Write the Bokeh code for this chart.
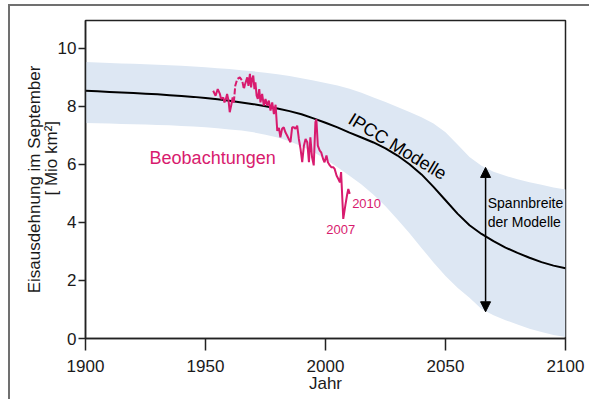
import math
from bokeh.plotting import figure
from bokeh.models import Label, Arrow, NormalHead, FixedTicker, Range1d, LinearAxis
from bokeh.embed import file_html
from bokeh.resources import INLINE

# ---- data ----
model_years = [1900, 1905, 1910, 1915, 1920, 1925, 1930, 1935, 1940, 1945, 1950, 1955, 1960,
               1965, 1970, 1975, 1980, 1985, 1990, 1995, 2000, 2005, 2010, 2015, 2020, 2025,
               2030, 2035, 2040, 2045, 2050, 2055, 2060, 2065, 2070, 2075, 2080, 2085, 2090,
               2095, 2100]
model_mean = [8.53, 8.51, 8.49, 8.47, 8.45, 8.43, 8.41, 8.38, 8.35, 8.32, 8.28, 8.24, 8.19,
              8.13, 8.07, 8.00, 7.92, 7.83, 7.72, 7.58, 7.43, 7.27, 7.09, 6.92, 6.75, 6.55,
              6.30, 6.00, 5.65, 5.22, 4.76, 4.30, 3.90, 3.60, 3.35, 3.13, 2.95, 2.78, 2.63,
              2.51, 2.42]
model_upper = [9.52, 9.50, 9.49, 9.47, 9.46, 9.44, 9.43, 9.41, 9.39, 9.37, 9.34, 9.31, 9.28,
               9.24, 9.20, 9.15, 9.10, 9.04, 8.96, 8.88, 8.80, 8.71, 8.60, 8.46, 8.30, 8.14,
               7.97, 7.80, 7.62, 7.40, 7.10, 6.68, 6.25, 5.95, 5.74, 5.60, 5.48, 5.38, 5.29,
               5.20, 5.13]
model_lower = [7.42, 7.41, 7.40, 7.39, 7.38, 7.37, 7.35, 7.34, 7.32, 7.30, 7.27, 7.24, 7.20,
               7.16, 7.10, 7.02, 6.92, 6.79, 6.62, 6.42, 6.17, 5.90, 5.60, 5.30, 4.95, 4.55,
               4.10, 3.62, 3.12, 2.62, 2.15, 1.75, 1.40, 1.02, 0.80, 0.63, 0.48, 0.34, 0.22,
               0.12, 0.05]

obs_years = [1953.2, 1954.2, 1955.1, 1956.0, 1956.5, 1957.4, 1957.9, 1958.5, 1959.0, 1959.6,
             1960.1, 1960.7, 1961.3, 1961.8, 1962.4, 1963.2, 1964.3, 1965.3, 1966.0, 1966.5,
             1967.4, 1967.9, 1968.5, 1969.0, 1969.4, 1969.9, 1970.4, 1970.8, 1971.3, 1971.8,
             1972.4, 1972.9, 1973.6, 1974.3, 1975.0, 1975.7, 1976.4, 1977.1, 1977.8, 1978.5,
             1979.2, 1979.9, 1980.6, 1981.2, 1981.9, 1982.6, 1983.3, 1984.0, 1984.7, 1985.4,
             1986.1, 1986.8, 1987.5, 1988.2, 1988.9, 1989.6, 1990.3, 1991.0, 1991.7, 1992.4,
             1993.1, 1993.7, 1994.4, 1995.1, 1995.8, 1996.2, 1996.8, 1997.6, 1998.2, 1999.0,
             1999.6, 2000.4, 2001.0, 2001.8, 2002.4, 2003.2, 2003.8, 2004.6, 2005.3, 2006.0,
             2006.5, 2007.4, 2008.3, 2009.0, 2009.5, 2010.1]
obs_extent = [8.53, 8.36, 8.59, 8.42, 8.25, 8.30, 8.13, 8.25, 8.42, 8.19,
              7.79, 8.02, 8.30, 8.13, 8.70, 8.93, 8.99, 8.88, 8.59, 8.76,
              8.99, 8.70, 9.11, 8.65, 8.93, 9.05, 8.59, 8.82, 8.36, 8.25,
              8.59, 8.13, 8.42, 8.02, 8.25, 8.02, 8.19, 7.85, 8.13, 7.73,
              8.05, 7.15, 7.25, 6.93, 7.22, 7.27, 7.10, 6.99, 6.87, 6.76,
              7.27, 7.27, 7.22, 7.33, 6.87, 6.53, 6.07, 6.64, 6.87, 6.76,
              6.07, 6.93, 6.24, 5.96, 7.45, 7.55, 6.64, 6.47, 6.41, 6.18,
              6.07, 6.30, 6.07, 5.96, 5.90, 5.90, 5.84, 5.61, 5.50, 5.38,
              5.73, 4.12, 4.60, 4.95, 5.15, 4.98]
dash_from, dash_to = 13, 19   # gap-dashed part of the record (1962-1966)

x_ticks = [1900, 1950, 2000, 2050, 2100]
y_ticks = [0, 2, 4, 6, 8, 10]

y_title_1 = "Eisausdehnung im September"
y_title_2 = "[ Mio km\u00b2]"

spread_year = 2066.7
spread_top = 5.89
spread_bottom = 0.92

FONT = "Liberation Sans"
PINK = "#d81b6e"
BAND = "#dde7f3"
TXT = "#1a1a1a"

p = figure(width=581, height=395, x_range=Range1d(1900, 2100), y_range=Range1d(0, 10.95),
           output_backend="svg", toolbar_location=None,
           min_border_left=75, min_border_right=26, min_border_top=14, min_border_bottom=63)
p.styles = {"margin-left": "8px", "margin-top": "4px",
            "border-left": "2px solid #707070", "border-top": "2px solid #707070"}
p.grid.visible = False
p.outline_line_color = "#222222"
p.outline_line_width = 1.5
p.background_fill_color = "white"
p.border_fill_color = "white"

# band and lines
p.varea(x=model_years, y1=model_lower, y2=model_upper, fill_color=BAND, fill_alpha=1.0)
p.line(model_years, model_mean, line_color="black", line_width=2)

p.line(obs_years[:dash_from + 1], obs_extent[:dash_from + 1], line_color=PINK, line_width=2)
p.line(obs_years[dash_from:dash_to + 1], obs_extent[dash_from:dash_to + 1], line_color=PINK,
       line_width=2, line_dash="6 2")
p.line(obs_years[dash_to:], obs_extent[dash_to:], line_color=PINK, line_width=2)

# axes
for ax in (p.xaxis[0], p.yaxis[0]):
    ax.axis_line_color = "#222222"
    ax.axis_line_width = 1.5
    ax.major_tick_line_color = "#222222"
    ax.major_tick_line_width = 1.5
    ax.major_tick_in = 0
    ax.minor_tick_out = 0
    ax.minor_tick_in = 0
    ax.major_label_text_font = FONT
    ax.major_label_text_font_size = "17px"
    ax.major_label_text_color = TXT

p.xaxis.ticker = FixedTicker(ticks=x_ticks)
p.yaxis.ticker = FixedTicker(ticks=y_ticks)
p.xaxis.major_tick_out = 12
p.yaxis.major_tick_out = 7
p.xaxis.major_label_standoff = 9
p.yaxis.major_label_standoff = 2
p.xaxis.axis_label = "Jahr"
p.xaxis.axis_label_text_font = FONT
p.xaxis.axis_label_text_font_size = "17px"
p.xaxis.axis_label_text_font_style = "normal"
p.xaxis.axis_label_text_color = TXT
p.xaxis.axis_label_standoff = -1

# y-axis title as two label-only axes
def title_axis(text, standoff):
    a = LinearAxis(ticker=FixedTicker(ticks=[]), axis_label=text)
    a.axis_line_color = None
    a.major_tick_line_color = None
    a.minor_tick_line_color = None
    a.major_label_text_font_size = "0px"
    a.axis_label_text_font = FONT
    a.axis_label_text_font_size = "17px"
    a.axis_label_text_font_style = "normal"
    a.axis_label_text_color = TXT
    a.axis_label_standoff = standoff
    return a

p.add_layout(title_axis("\u00a0" * 9 + y_title_2, -6), "left")
p.add_layout(title_axis(y_title_1, -5), "left")

# annotations
p.add_layout(Label(x=1926.7, y=6.2, text="Beobachtungen", text_align="left",
                   text_baseline="middle", text_font=FONT, text_font_size="18px",
                   text_color=PINK))
p.add_layout(Label(x=2030.0, y=6.61, text="IPCC Modelle", angle=-0.548, text_align="center",
                   text_baseline="middle", text_font=FONT, text_font_size="18px",
                   text_color="black"))
p.add_layout(Label(x=2011.1, y=4.66, text="2010", text_align="left", text_baseline="middle",
                   text_font=FONT, text_font_size="13px", text_color=PINK))
p.add_layout(Label(x=2000.3, y=3.75, text="2007", text_align="left", text_baseline="middle",
                   text_font=FONT, text_font_size="13px", text_color=PINK))
p.add_layout(Label(x=2067.6, y=4.65, text="Spannbreite", text_align="left",
                   text_baseline="middle", text_font=FONT, text_font_size="14px",
                   text_color="black"))
p.add_layout(Label(x=2067.6, y=4.0, text="der Modelle", text_align="left",
                   text_baseline="middle", text_font=FONT, text_font_size="14px",
                   text_color="black"))

p.add_layout(Arrow(start=NormalHead(size=10, fill_color="black", line_color="black"),
                   end=NormalHead(size=10, fill_color="black", line_color="black"),
                   x_start=spread_year, y_start=spread_bottom, x_end=spread_year, y_end=spread_top,
                   line_color="black", line_width=1.5))

open("out.html", "w").write(file_html(p, INLINE))
